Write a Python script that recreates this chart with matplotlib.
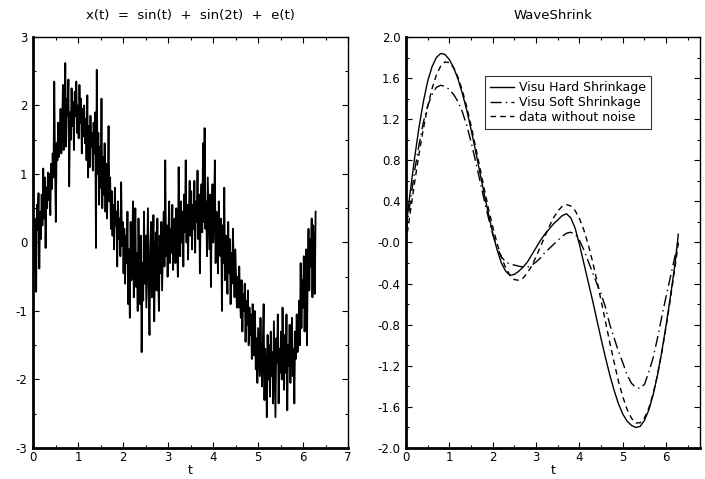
import numpy as np
import matplotlib
matplotlib.use("Agg")
import matplotlib.pyplot as plt
from matplotlib.ticker import MultipleLocator

plt.rcParams['font.family'] = ['DejaVu Sans']
plt.rcParams['axes.unicode_minus'] = False

# noisy signal (360 samples over 0..2pi)
noisy = [
    0.25, -0.45, 0.35, 0.12, -0.72, 0.55, 0.18, 0.72, -0.38, 0.45, 0.05, 0.7, 0.25, 1.08, 0.35, 0.95, -0.08, 0.8, 0.5, 1.02,
    0.62, 1.0, 0.4, 1.15, 0.78, 1.3, 0.95, 2.35, 1.1, 0.3, 1.45, 1.2, 1.75, 1.25, 1.5, 1.95, 1.3, 1.62, 2.3, 1.35,
    1.55, 2.62, 1.4, 2.1, 1.85, 2.38, 0.82, 1.9, 1.5, 2.25, 1.7, 2.05, 1.35, 2.2, 1.85, 2.35, 1.6, 2.0, 1.52, 2.3,
    1.75, 2.1, 1.3, 1.95, 1.55, 2.0, 1.45, 1.8, 1.2, 2.15, 0.95, 1.7, 1.1, 1.85, 1.4, 1.6, 1.05, 1.75, 1.3, 1.9,
    -0.08, 2.52, 1.0, 1.6, 0.55, 1.4, 0.8, 2.1, 0.5, 1.25, 0.7, 1.45, 0.45, 1.15, 0.35, 0.9, 1.7, 0.6, 0.95, 0.2,
    0.75, 0.1, 0.55, -0.1, 0.8, 0.25, 0.45, -0.35, 0.6, 0.05, 0.35, -0.2, 0.88, -0.05, 0.3, -0.45, 0.2, -0.6, 0.1, -0.3,
    0.45, -0.9, -0.1, -1.1, 0.3, -0.55, -0.2, 0.6, -0.8, -0.3, 0.5, -0.65, -0.15, -1.0, 0.35, -0.5, -0.9, 0.1, -1.6, -0.3,
    -0.85, 0.45, -0.6, 0.1, -0.95, -0.25, 0.5, -0.7, -1.35, -0.1, 0.3, -0.8, -0.35, 0.4, -1.15, -0.2, 0.15, -0.7, 0.35, -0.5,
    -1.0, 0.1, -0.45, 0.3, -0.7, -0.1, 0.45, -0.35, 1.2, -0.2, 0.25, -0.5, 0.1, 0.6, -0.3, 0.2, -0.15, 0.55, -0.4, 0.3,
    0.35, -0.3, 0.5, 0.05, -0.5, 1.1, 0.2, -0.2, 0.6, 0.0, 0.45, -0.35, 0.7, 0.15, 1.2, 0.0, 0.55, -0.25, 0.4, 0.9,
    0.1, 0.75, -0.1, 0.55, 0.2, 0.9, -0.15, 0.6, 0.3, 1.05, 0.05, 0.7, -0.45, 0.45, 0.85, 0.15, 1.45, 0.3, 1.67, 0.2,
    0.6, -0.2, 0.95, 0.4, -0.1, 0.7, -0.65, 0.35, 0.85, 0.0, 0.5, 1.2, -0.3, 0.45, 0.1, -0.45, 0.6, 0.0, -0.2, 0.35,
    -1.0, 0.25, -0.3, 0.8, -0.55, 0.1, -0.2, -0.75, 0.3, -0.45, 0.05, -0.9, -0.15, -0.6, 0.2, -0.35, -0.8, -0.1, -0.55, -0.95,
    -0.5, -0.95, -0.35, -0.8, -1.1, -0.55, -1.3, -0.75, -1.0, -0.6, -1.45, -0.85, -1.2, -0.7, -1.5, -0.95, -1.35, -1.05, -1.7, -0.9,
    -1.2, -1.65, -1.0, -1.85, -1.4, -2.05, -1.25, -1.6, -1.95, -1.1, -1.75, -2.1, -1.45, -0.9, -2.3, -1.55, -1.8, -2.55, -1.35, -2.0,
    -1.5, -2.25, -1.3, -1.95, -1.6, -2.35, -1.15, -1.85, -2.55, -1.4, -1.75, -1.05, -2.35, -1.55, -1.9, -1.3, -2.0, -0.95, -1.7, -2.15,
    -1.35, -1.9, -1.05, -2.45, -1.5, -1.8, -1.2, -2.05, -1.45, -1.1, -1.95, -1.55, -2.35, -1.3, -1.7, -1.05, -1.6, -1.45, -0.85, -1.5,
    -0.3, -1.25, -0.55, -0.95, -0.2, -1.3, -0.6, -0.1, -1.5, -0.45, 0.2, -0.7, 0.05, -0.35, 0.35, -0.8, 0.25, -0.15, -0.75, 0.45,
]
t_noisy = np.linspace(0, 6.28, len(noisy))

# smooth curves, right panel (step 0.1, last point at 6.28)
t_smooth = np.r_[np.arange(63) * 0.1, 6.28]
hard = [0.15, 0.5, 0.83, 1.12, 1.37, 1.57, 1.71, 1.80, 1.84, 1.83,
        1.78, 1.70, 1.59, 1.45, 1.29, 1.10, 0.90, 0.69, 0.48, 0.28,
        0.09, -0.07, -0.20, -0.28, -0.32, -0.31, -0.28, -0.24, -0.19, -0.12,
        -0.05, 0.02, 0.08, 0.13, 0.18, 0.22, 0.26, 0.28, 0.24, 0.14,
        -0.02, -0.20, -0.38, -0.56, -0.75, -0.94, -1.12, -1.29, -1.44, -1.57,
        -1.67, -1.74, -1.78, -1.80, -1.79, -1.73, -1.63, -1.48, -1.29, -1.06,
        -0.80, -0.52, -0.22, 0.08]
soft = [0.10, 0.40, 0.70, 0.95, 1.17, 1.33, 1.44, 1.51, 1.53, 1.52,
        1.49, 1.44, 1.37, 1.27, 1.14, 0.98, 0.80, 0.61, 0.42, 0.24,
        0.08, -0.05, -0.14, -0.19, -0.21, -0.22, -0.23, -0.24, -0.24, -0.22,
        -0.19, -0.15, -0.10, -0.06, -0.02, 0.02, 0.06, 0.09, 0.10, 0.08,
        0.02, -0.07, -0.18, -0.29, -0.40, -0.50, -0.63, -0.80, -0.93, -1.06,
        -1.17, -1.29, -1.37, -1.41, -1.42, -1.38, -1.26, -1.12, -0.93, -0.72,
        -0.52, -0.33, -0.14, 0.00]
clean = [0.0, 0.299, 0.588, 0.861, 1.106, 1.321, 1.497, 1.630, 1.717, 1.757,
         1.750, 1.700, 1.607, 1.479, 1.320, 1.138, 0.941, 0.736, 0.531, 0.334,
         0.153, -0.008, -0.143, -0.248, -0.321, -0.361, -0.368, -0.346, -0.296, -0.226,
         -0.138, -0.041, 0.058, 0.154, 0.238, 0.306, 0.351, 0.369, 0.356, 0.311,
         0.232, 0.123, -0.017, -0.181, -0.367, -0.566, -0.769, -0.975, -1.166, -1.352,
         -1.503, -1.625, -1.711, -1.757, -1.754, -1.706, -1.611, -1.472, -1.288, -1.067,
         -0.816, -0.541, -0.248, -0.01]

left_yticks = [-3, -2, -1, 0, 1, 2, 3]
right_yticks = [-2.0, -1.6, -1.2, -0.8, -0.4, 0.0, 0.4, 0.8, 1.2, 1.6, 2.0]
right_ylabels = ['-2.0', '-1.6', '-1.2', '-0.8', '-0.4', '-0.0', '0.4', '0.8', '1.2', '1.6', '2.0']

fig = plt.figure(figsize=(7.05, 4.79), dpi=100)
W, H = 705.0, 479.0
ax1 = fig.add_axes([33 / W, 1 - 448 / H, 315 / W, 411 / H])
ax2 = fig.add_axes([406 / W, 1 - 448 / H, 294 / W, 411 / H])


def style(ax):
    ax.tick_params(which='both', direction='in', top=True, right=True, labelsize=8.5,
                   width=0.8)
    ax.tick_params(axis='x', pad=2)
    ax.tick_params(axis='y', pad=4)
    ax.tick_params(which='major', length=4)
    ax.tick_params(which='minor', length=2.5)
    ax.spines['left'].set_linewidth(2)
    ax.spines['bottom'].set_linewidth(2)
    ax.spines['top'].set_linewidth(1)
    ax.spines['right'].set_linewidth(1)
    ax.xaxis.set_minor_locator(MultipleLocator(0.5))
    ax.set_xlabel('t', fontsize=9, labelpad=0)


ax1.plot(t_noisy, noisy, color='black', lw=1.3)
ax1.set_xlim(0, 7)
ax1.set_ylim(-3, 3)
ax1.set_yticks(left_yticks)
ax1.set_yticklabels([str(v) for v in left_yticks])
ax1.yaxis.set_minor_locator(MultipleLocator(0.5))
ax1.set_title('x(t)  =  sin(t)  +  sin(2t)  +  e(t)', fontsize=9.5, pad=13)
style(ax1)

ax2.plot(t_smooth, hard, color='black', lw=1.0, label='Visu Hard Shrinkage')
ax2.plot(t_smooth, soft, color='black', lw=1.0, ls=(0, (8, 3, 1, 3)), label='Visu Soft Shrinkage')
ax2.plot(t_smooth, clean, color='black', lw=1.0, ls=(0, (4, 3)), label='data without noise')
ax2.set_xlim(0, 6.78)
ax2.set_ylim(-2, 2)
ax2.set_yticks(right_yticks)
ax2.set_yticklabels(right_ylabels)
ax2.yaxis.set_minor_locator(MultipleLocator(0.2))
ax2.set_title('WaveShrink', fontsize=9.5, pad=13)
style(ax2)
leg = ax2.legend(loc='upper left', bbox_to_anchor=(0.27, 0.905), fontsize=9,
                 frameon=True, fancybox=False, edgecolor='black', handlelength=1.9,
                 borderpad=0.4, labelspacing=0.15, handletextpad=0.4, borderaxespad=0)
leg.get_frame().set_linewidth(0.8)

fig.savefig('out.png', dpi=100)
